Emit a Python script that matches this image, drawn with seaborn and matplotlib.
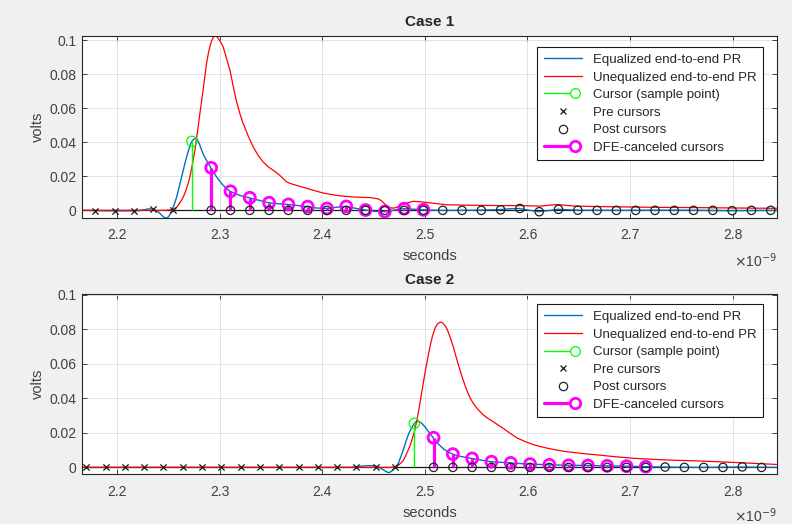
import numpy as np
import matplotlib
matplotlib.use('Agg')
import matplotlib.pyplot as plt
import seaborn as sns
from matplotlib.lines import Line2D
from matplotlib.legend_handler import HandlerBase
from matplotlib.ticker import FuncFormatter, FormatStrFormatter

# ---------------------------------------------------------------
# data (time in ns, amplitude in volts)
# ---------------------------------------------------------------
UI = 0.01882  # symbol spacing, ns
x_ticks = [2.2, 2.3, 2.4, 2.5, 2.6, 2.7, 2.8]
y_ticks = [0, 0.02, 0.04, 0.06, 0.08, 0.1]

# Case 1
c1_eq_t = [2.1654, 2.1927, 2.2171, 2.2220, 2.2268, 2.2295, 2.2317, 2.2336, 2.2356, 2.2376,
           2.2395, 2.2415, 2.2434, 2.2455, 2.2473, 2.2488, 2.2502, 2.2517, 2.2532, 2.2555,
           2.2578, 2.2610, 2.2642, 2.2665, 2.2688, 2.2707, 2.2727, 2.2746, 2.2766, 2.2783,
           2.2800, 2.2818, 2.2837, 2.2855, 2.2873, 2.2892, 2.2912, 2.2940, 2.2968, 2.3000,
           2.3032, 2.3065, 2.3098, 2.3147, 2.3195, 2.3240, 2.3286, 2.3338, 2.3390, 2.3471,
           2.3566, 2.3660, 2.3751, 2.3846, 2.3937, 2.4041, 2.4132, 2.4226, 2.4317, 2.4415,
           2.4512, 2.4600, 2.4698, 2.4788, 2.4883, 2.4978, 2.5163, 2.5351, 2.5537, 2.5725,
           2.5820, 2.5917, 2.6005, 2.6105, 2.6200, 2.6295, 2.6483, 2.6863, 2.7488, 2.7985,
           2.8434]
c1_eq_v = [0.0, -0.0003, -0.0003, -0.0001, 0.0004, 0.0008, 0.0009, 0.0008, 0.0004, -0.0002,
           -0.0008, -0.0018, -0.0030, -0.0041, -0.0046, -0.0043, -0.0035, -0.0019, 0.0, 0.0035,
           0.0078, 0.0155, 0.0235, 0.0290, 0.0340, 0.0378, 0.0405, 0.0418, 0.0422, 0.0412,
           0.0390, 0.0360, 0.0330, 0.0310, 0.0290, 0.0270, 0.0250, 0.0222, 0.0196, 0.0170,
           0.0147, 0.0128, 0.0112, 0.0099, 0.0088, 0.0080, 0.0074, 0.0065, 0.0058, 0.0045,
           0.0039, 0.0035, 0.0029, 0.0022, 0.0014, 0.0011, 0.0018, 0.0023, 0.0013, 0.0002,
           -0.0006, -0.0007, 0.0001, 0.0010, 0.0007, 0.0003, 0.0, 0.0, 0.0001, 0.0004,
           0.0009, 0.0011, 0.0002, -0.0008, -0.0002, 0.0006, 0.0001, 0.0, 0.0001, -0.0002,
           0.0]
c1_uneq_t = [2.1654, 2.2463, 2.2532, 2.2555, 2.2578, 2.2594, 2.2610, 2.2626, 2.2642, 2.2660,
             2.2678, 2.2693, 2.2707, 2.2732, 2.2756, 2.2780, 2.2805, 2.2822, 2.2839, 2.2855,
             2.2870, 2.2886, 2.2902, 2.2917, 2.2932, 2.2945, 2.2958, 2.2971, 2.2985, 2.3008,
             2.3032, 2.3047, 2.3063, 2.3080, 2.3098, 2.3130, 2.3163, 2.3195, 2.3227, 2.3276,
             2.3325, 2.3373, 2.3422, 2.3471, 2.3520, 2.3553, 2.3585, 2.3618, 2.3651, 2.3682,
             2.3712, 2.3780, 2.3888, 2.4005, 2.4088, 2.4171, 2.4317, 2.4463, 2.4541, 2.4572,
             2.4600, 2.4630, 2.4659, 2.4690, 2.4717, 2.4760, 2.4805, 2.4883, 2.4980, 2.5090,
             2.5205, 2.5439, 2.5732, 2.5927, 2.6122, 2.6288, 2.6463, 2.6707, 2.7195, 2.7683,
             2.8171, 2.8434]
c1_uneq_v = [0.0, 0.0, 0.0004, 0.0010, 0.0018, 0.0030, 0.0045, 0.0060, 0.0078, 0.0103,
             0.0135, 0.0163, 0.0196, 0.0270, 0.0353, 0.0455, 0.0569, 0.0645, 0.0720, 0.0795,
             0.0863, 0.0918, 0.0960, 0.0992, 0.1012, 0.1022, 0.1025, 0.1020, 0.1008, 0.0988,
             0.0960, 0.0930, 0.0895, 0.0860, 0.0824, 0.0728, 0.0637, 0.0568, 0.0510, 0.0437,
             0.0372, 0.0323, 0.0284, 0.0256, 0.0235, 0.0221, 0.0205, 0.0186, 0.0167, 0.0159,
             0.0153, 0.0141, 0.0122, 0.0102, 0.0093, 0.0085, 0.0078, 0.0075, 0.0068, 0.0058,
             0.0042, 0.0027, 0.0015, 0.0013, 0.0016, 0.0028, 0.0040, 0.0053, 0.0049, 0.0041,
             0.0033, 0.0030, 0.0028, 0.0028, 0.0025, 0.0034, 0.0025, 0.0022, 0.0018, 0.0016,
             0.0013, 0.0012]
c1_cursor_t = 2.2727
c1_cursor_v = 0.0405
c1_pre_v = [-0.0003, -0.0003, -0.0003, 0.0007, 0.0]
c1_dfe_v = [0.0250, 0.0112, 0.0074, 0.0045, 0.0035, 0.0022, 0.0011, 0.0023, 0.0002, -0.0007,
            0.0010, 0.0003]
c1_post_v = [0.0, 0.0, 0.0, 0.0, 0.0, 0.0, 0.0, 0.0, 0.0, 0.0,
             0.0, 0.0, 0.0, 0.0, 0.0, 0.0003, 0.0011, -0.0008, 0.0006, 0.0001,
             0.0, 0.0, 0.0, 0.0, 0.0, 0.0, 0.0, -0.0002, 0.0, 0.0]

# Case 2
c2_eq_t = [2.1654, 2.4268, 2.4317, 2.4366, 2.4415, 2.4463, 2.4500, 2.4532, 2.4560, 2.4590,
           2.4617, 2.4642, 2.4660, 2.4678, 2.4693, 2.4707, 2.4723, 2.4740, 2.4764, 2.4788,
           2.4812, 2.4837, 2.4866, 2.4896, 2.4915, 2.4935, 2.4967, 2.5000, 2.5040, 2.5081,
           2.5130, 2.5179, 2.5225, 2.5270, 2.5320, 2.5371, 2.5456, 2.5550, 2.5644, 2.5829,
           2.6021, 2.6213, 2.6398, 2.6587, 2.6773, 2.6961, 2.7146, 2.7335, 2.7683, 2.8073,
           2.8434]
c2_eq_v = [0.0, 0.0, 0.0003, 0.0006, 0.0009, 0.0010, 0.0010, 0.0006, -0.0002, -0.0012,
           -0.0023, -0.0030, -0.0028, -0.0020, -0.0010, 0.0, 0.0010, 0.0023, 0.0060, 0.0100,
           0.0145, 0.0188, 0.0226, 0.0255, 0.0265, 0.0268, 0.0257, 0.0235, 0.0203, 0.0172,
           0.0136, 0.0108, 0.0090, 0.0077, 0.0067, 0.0061, 0.0052, 0.0042, 0.0033, 0.0026,
           0.0019, 0.0015, 0.0012, 0.0011, 0.0009, 0.0007, 0.0004, 0.0002, 0.0, 0.0002,
           0.0]
c2_uneq_t = [2.1654, 2.4659, 2.4683, 2.4707, 2.4727, 2.4746, 2.4767, 2.4788, 2.4805, 2.4821,
             2.4838, 2.4854, 2.4878, 2.4902, 2.4927, 2.4951, 2.4975, 2.5000, 2.5025, 2.5049,
             2.5073, 2.5098, 2.5122, 2.5146, 2.5161, 2.5176, 2.5194, 2.5212, 2.5244, 2.5276,
             2.5308, 2.5341, 2.5374, 2.5407, 2.5439, 2.5471, 2.5520, 2.5569, 2.5618, 2.5666,
             2.5715, 2.5764, 2.5830, 2.5895, 2.5976, 2.6057, 2.6138, 2.6220, 2.6301, 2.6382,
             2.6545, 2.6707, 2.6870, 2.7032, 2.7195, 2.7358, 2.7520, 2.7683, 2.7846, 2.8008,
             2.8221, 2.8434]
c2_uneq_v = [0.0, 0.0, 0.0001, 0.0003, 0.0008, 0.0015, 0.0026, 0.0040, 0.0058, 0.0080,
             0.0102, 0.0125, 0.0168, 0.0217, 0.0290, 0.0371, 0.0458, 0.0545, 0.0627, 0.0700,
             0.0760, 0.0807, 0.0832, 0.0841, 0.0841, 0.0835, 0.0823, 0.0807, 0.0758, 0.0700,
             0.0632, 0.0565, 0.0504, 0.0449, 0.0405, 0.0371, 0.0334, 0.0304, 0.0283, 0.0265,
             0.0245, 0.0226, 0.0198, 0.0172, 0.0150, 0.0132, 0.0119, 0.0108, 0.0099, 0.0091,
             0.0080, 0.0071, 0.0061, 0.0053, 0.0048, 0.0043, 0.0040, 0.0037, 0.0033, 0.0029,
             0.0023, 0.0017]
c2_cursor_t = 2.4896
c2_cursor_v = 0.0255
c2_pre_v = [0.0, 0.0, 0.0, 0.0, 0.0, 0.0, 0.0, 0.0, 0.0, 0.0,
            0.0, 0.0, 0.0, 0.0, 0.0, 0.0003, 0.0]
c2_dfe_v = [0.0172, 0.0077, 0.0052, 0.0033, 0.0026, 0.0019, 0.0015, 0.0012, 0.0011, 0.0009,
            0.0007, 0.0004]
c2_post_v = [0.0, 0.0, 0.0, 0.0, 0.0, 0.0, 0.0, 0.0, 0.0, 0.0,
             0.0, 0.0, 0.0002, 0.0, 0.0, 0.0, 0.0003, 0.0]

labels = ['Equalized end-to-end PR', 'Unequalized end-to-end PR', 'Cursor (sample point)',
          'Pre cursors', 'Post cursors', 'DFE-canceled cursors']

# ---------------------------------------------------------------
# style (MATLAB-like look)
# ---------------------------------------------------------------
sns.set_theme(style='whitegrid', rc={
    'figure.facecolor': '#f0f0f0',
    'axes.facecolor': 'white',
    'axes.edgecolor': '#262626',
    'axes.linewidth': 0.8,
    'grid.color': '#dedede',
    'grid.linewidth': 0.6,
    'xtick.direction': 'in',
    'ytick.direction': 'in',
    'xtick.top': True,
    'ytick.right': True,
    'xtick.bottom': True,
    'ytick.left': True,
    'xtick.color': '#262626',
    'ytick.color': '#262626',
    'xtick.labelcolor': '#404040',
    'ytick.labelcolor': '#404040',
    'xtick.major.size': 3.5,
    'ytick.major.size': 3.5,
    'xtick.major.width': 0.6,
    'ytick.major.width': 0.6,
    'axes.labelcolor': '#404040',
})
plt.rcParams['font.family'] = ['Liberation Sans', 'DejaVu Sans']

BLUE = '#0072BD'
RED = '#FF0000'
GREEN = '#00FF00'
MAG = '#FF00FF'


class StemHandler(HandlerBase):
    # line with an open circle near its right end, like a MATLAB stem legend entry
    def create_artists(self, legend, orig_handle, xdescent, ydescent, width, height, fontsize, trans):
        y = (height - ydescent) / 2.0
        x1 = -xdescent + width * 0.82
        line = Line2D([-xdescent, x1], [y, y], color=orig_handle.get_color(),
                      lw=orig_handle.get_linewidth(), transform=trans)
        mark = Line2D([x1], [y], ls='none', marker='o', mfc='white', mec=orig_handle.get_color(),
                      ms=orig_handle.get_markersize(), mew=orig_handle.get_markeredgewidth(),
                      transform=trans)
        return [line, mark]


def draw_case(ax, title, eq_t, eq_v, uneq_t, uneq_v, cur_t, cur_v, pre_v, dfe_v, post_v, ylim, leg_top):
    s = 1e-9
    pre_t = cur_t + UI * np.arange(-len(pre_v), 0)
    post_t = cur_t + UI * np.arange(1, len(post_v) + 1)
    dfe_t = post_t[:len(dfe_v)]

    ax.axhline(0, color='k', lw=0.9, zorder=1.5)
    sns.lineplot(x=np.array(eq_t) * s, y=eq_v, ax=ax, color=BLUE, lw=1.0, sort=False,
                 legend=False, zorder=2)
    sns.lineplot(x=np.array(uneq_t) * s, y=uneq_v, ax=ax, color=RED, lw=0.9, sort=False,
                 legend=False, zorder=2.2)

    # cursor stem
    ax.vlines(cur_t * s, 0, cur_v, color=GREEN, lw=1.0, zorder=3)
    sns.scatterplot(x=[cur_t * s], y=[cur_v], ax=ax, marker='o', s=55, facecolors='none',
                    edgecolor=GREEN, linewidth=0.9, zorder=3.1, legend=False)

    # pre cursors
    sns.scatterplot(x=pre_t * s, y=pre_v, ax=ax, marker='x', s=20, color='k',
                    linewidth=0.9, zorder=3.2, legend=False)

    # DFE-cancelled cursors
    ax.vlines(dfe_t * s, 0, dfe_v, color=MAG, lw=2.3, zorder=3.3)
    sns.scatterplot(x=dfe_t * s, y=dfe_v, ax=ax, marker='o', s=62, facecolors='none',
                    edgecolor=MAG, linewidth=2.0, zorder=3.4, legend=False)

    # post cursors
    sns.scatterplot(x=post_t * s, y=post_v, ax=ax, marker='o', s=36, facecolors='none',
                    edgecolor='#222222', linewidth=0.9, zorder=3.5, legend=False)

    ax.set_xlim(2.1655e-9, 2.8434e-9)
    ax.set_ylim(*ylim)
    ax.set_xticks(np.array(x_ticks) * s)
    ax.xaxis.set_major_formatter(FuncFormatter(lambda x, p: f'{x * 1e9:.1f}'))
    ax.set_yticks(y_ticks)
    ax.yaxis.set_major_formatter(FormatStrFormatter('%g'))
    ax.tick_params(axis='x', labelsize=10, pad=7.5)
    ax.tick_params(axis='y', labelsize=10, pad=4)
    ax.set_xlabel('seconds', fontsize=10.5, labelpad=5)
    ax.set_ylabel('volts', fontsize=10.5, labelpad=3)
    ax.set_title(title, fontsize=11, fontweight='bold', pad=7)
    ax.grid(True)
    for sp in ax.spines.values():
        sp.set_visible(True)
        sp.set_color('#262626')

    handles = [
        Line2D([], [], color=BLUE, lw=1.0),
        Line2D([], [], color=RED, lw=0.9),
        Line2D([], [], color=GREEN, lw=1.0, marker='o', ms=7, mew=0.9),
        Line2D([], [], ls='none', marker='x', color='k', ms=4.5, mew=0.9),
        Line2D([], [], ls='none', marker='o', mfc='none', mec='#222222', ms=6, mew=0.9),
        Line2D([], [], color=MAG, lw=2.3, marker='o', ms=7.5, mew=2.0),
    ]
    leg = ax.legend(handles, labels, loc='upper right', bbox_to_anchor=(0.98, leg_top),
                    borderaxespad=0, fontsize=9.5, frameon=True, fancybox=False,
                    edgecolor='k', framealpha=1, borderpad=0.5, labelspacing=0.4,
                    handlelength=2.9, handletextpad=0.8, numpoints=1,
                    handler_map={handles[2]: StemHandler(), handles[5]: StemHandler()})
    leg.get_frame().set_linewidth(0.8)
    for txt in leg.get_texts():
        txt.set_color('#262626')
    leg.set_zorder(10)


fig = plt.figure(figsize=(7.92, 5.24), dpi=100)
ax1 = fig.add_axes([82 / 792, 1 - 217.5 / 524, 695 / 792, 181.5 / 524])
ax2 = fig.add_axes([82 / 792, 1 - 474.3 / 524, 695 / 792, 180.3 / 524])

draw_case(ax1, 'Case 1', c1_eq_t, c1_eq_v, c1_uneq_t, c1_uneq_v, c1_cursor_t, c1_cursor_v,
          c1_pre_v, c1_dfe_v, c1_post_v, (-0.0042, 0.1024), 0.938)
draw_case(ax2, 'Case 2', c2_eq_t, c2_eq_v, c2_uneq_t, c2_uneq_v, c2_cursor_t, c2_cursor_v,
          c2_pre_v, c2_dfe_v, c2_post_v, (-0.004, 0.1005), 0.943)

# exponent of the time axis, placed like MATLAB does
for ypix in (261, 516):
    fig.text(777 / 792, 1 - ypix / 524, r'$\times$10$^{-9}$', ha='right', va='center',
             fontsize=10, color='#404040')

fig.savefig('out.png', dpi=100, facecolor=fig.get_facecolor())
